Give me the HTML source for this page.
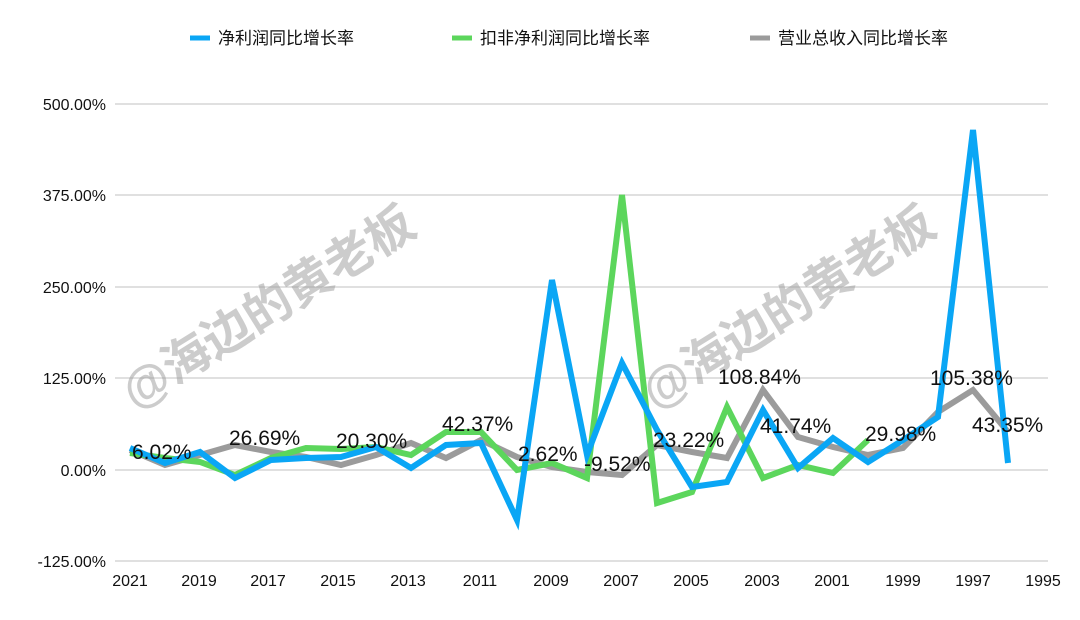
<!DOCTYPE html>
<html><head><meta charset="utf-8"><style>
body{margin:0;background:#fff;}
svg{display:block;font-family:"Liberation Sans","Noto Sans CJK SC",sans-serif;}
</style></head><body>
<svg width="1080" height="620" viewBox="0 0 1080 620" xmlns="http://www.w3.org/2000/svg">
<rect width="1080" height="620" fill="#fff"/>
<g stroke="#d6d6d6" stroke-width="1.5">
<line x1="115" y1="104" x2="1048" y2="104"/>
<line x1="115" y1="195" x2="1048" y2="195"/>
<line x1="115" y1="287" x2="1048" y2="287"/>
<line x1="115" y1="378" x2="1048" y2="378"/>
<line x1="115" y1="470" x2="1048" y2="470"/>
<line x1="115" y1="561" x2="1048" y2="561"/>
</g>
<g font-size="16" fill="#111" text-anchor="end">
<text x="106" y="110">500.00%</text>
<text x="106" y="201">375.00%</text>
<text x="106" y="293">250.00%</text>
<text x="106" y="384">125.00%</text>
<text x="106" y="476">0.00%</text>
<text x="106" y="567">-125.00%</text>
</g>
<g font-size="16" fill="#111" text-anchor="middle">
<text x="130" y="586">2021</text><text x="199" y="586">2019</text><text x="268" y="586">2017</text>
<text x="338" y="586">2015</text><text x="408" y="586">2013</text><text x="480" y="586">2011</text>
<text x="551" y="586">2009</text><text x="621" y="586">2007</text><text x="691" y="586">2005</text>
<text x="762" y="586">2003</text><text x="832" y="586">2001</text><text x="903" y="586">1999</text>
<text x="973" y="586">1997</text><text x="1043" y="586">1995</text>
</g>
<g font-size="48" font-weight="bold" fill="#9a9a9a" fill-opacity="0.5">
<text transform="translate(135,410) rotate(-32)">@海边的黄老板</text>
<text transform="translate(655,410) rotate(-32)">@海边的黄老板</text>
</g>
<g fill="none" stroke-width="6" stroke-linejoin="miter" stroke-linecap="butt">
<polyline stroke="#9b9b9b" points="130,450 165,465 200,455 235,445 271,452 306,457 341,465 376,455 411,443 446,458 481,440 517,457 552,467 587,472 622,475 657,445 692,452 727,458 763,390 798,437 833,447 868,455 903,448 938,412 973,390 1008,432"/>
<polyline stroke="#5cd65c" points="130,453 165,458 200,462 235,475 271,458 306,448 341,449 376,447 411,455 446,432 481,432 517,470 552,463 587,478 622,195 657,503 692,492 727,407 763,478 798,465 833,473 868,440"/>
<polyline stroke="#0aa6f5" points="130,448 165,463 200,452 235,478 271,460 306,458 341,457 376,447 411,468 446,445 481,443 517,520 552,280 587,455 622,363 657,430 692,487 727,482 763,410 798,468 833,438 868,462 903,440 938,417 973,130 1008,463"/>
</g>
<g font-size="21" fill="#111">
<text x="132" y="459">6.02%</text>
<text x="229" y="445">26.69%</text>
<text x="336" y="448">20.30%</text>
<text x="442" y="431">42.37%</text>
<text x="518" y="461">2.62%</text>
<text x="584" y="471">-9.52%</text>
<text x="653" y="447">23.22%</text>
<text x="718" y="384">108.84%</text>
<text x="760" y="433">41.74%</text>
<text x="865" y="441">29.98%</text>
<text x="930" y="385">105.38%</text>
<text x="972" y="432">43.35%</text>
</g>
<g font-size="17" fill="#111">
<line x1="190" y1="38" x2="210" y2="38" stroke="#0aa6f5" stroke-width="5"/>
<text x="218" y="44">净利润同比增长率</text>
<line x1="452" y1="38" x2="472" y2="38" stroke="#5cd65c" stroke-width="5"/>
<text x="480" y="44">扣非净利润同比增长率</text>
<line x1="750" y1="38" x2="770" y2="38" stroke="#9b9b9b" stroke-width="5"/>
<text x="778" y="44">营业总收入同比增长率</text>
</g>
</svg>
</body></html>
